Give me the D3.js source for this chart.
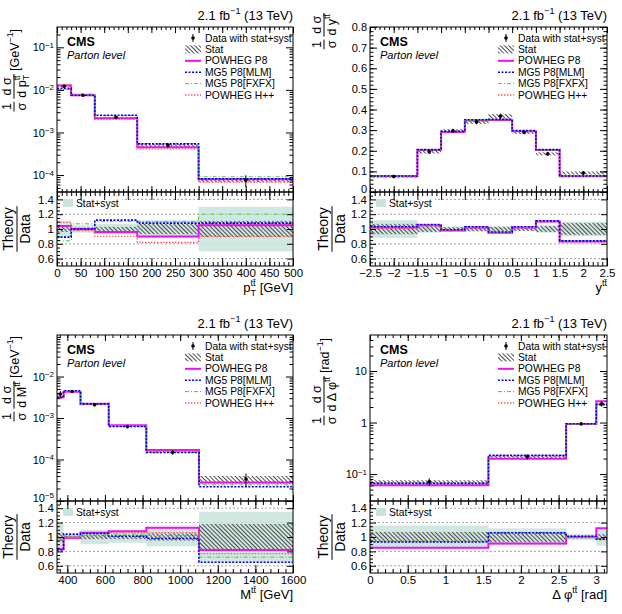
<!DOCTYPE html>
<html>
<head>
<meta charset="utf-8">
<script src="https://cdn.jsdelivr.net/npm/d3@7"></script>
<style>
  body { margin: 0; background: #fff; }
  svg { font-family: "Liberation Sans", Arial, Helvetica, sans-serif; }
  text { white-space: pre; }
</style>
</head>
<body>
<svg id="chart" width="622" height="614"></svg>
<script>
// ---- data ----
const modelNames = ["POWHEG P8", "MG5 P8[MLM]", "MG5 P8[FXFX]", "POWHEG H++"];

// pT(tt)
const ptEdges = [0, 30, 80, 170, 300, 500];
const ptData = [0.0122, 0.0075, 0.00226, 0.00050, 0.000076];
const ptStat = [0.04, 0.02, 0.03, 0.07, 0.11];
const ptTotal = [0.11, 0.05, 0.07, 0.12, 0.30];
const ptP8 = [1.04, 1.00, 0.96, 0.90, 1.05];
const ptMLM = [0.89, 1.00, 1.12, 1.08, 1.08];
const ptFXFX = [0.84, 1.07, 1.10, 1.10, 1.20];
const ptHpp = [1.09, 0.98, 0.90, 0.82, 0.90];

// y(tt)
const yEdges = [-2.5, -1.5, -1, -0.5, 0, 0.5, 1, 1.5, 2.5];
const yData = [0.075, 0.194, 0.297, 0.340, 0.367, 0.289, 0.185, 0.092];
const yStat = [0.07, 0.04, 0.025, 0.03, 0.03, 0.025, 0.04, 0.08];
const yTotal = [0.12, 0.05, 0.03, 0.035, 0.035, 0.03, 0.05, 0.10];
const yP8 = [1.02, 1.05, 0.98, 1.02, 0.95, 1.02, 1.10, 0.83];
const yMLM = [1.03, 1.06, 0.99, 1.03, 0.96, 1.03, 1.11, 0.84];
const yFXFX = [1.02, 1.05, 0.99, 1.02, 0.96, 1.02, 1.10, 0.84];
const yHpp = [1.01, 1.04, 0.98, 1.02, 0.95, 1.02, 1.10, 0.83];

// M(tt)
const mEdges = [345, 380, 470, 620, 820, 1100, 1600];
const mData = [0.0038, 0.00436, 0.00209, 0.00062, 0.00015, 0.000034];
const mStat = [0.06, 0.02, 0.03, 0.03, 0.05, 0.18];
const mTotal = [0.18, 0.04, 0.10, 0.08, 0.13, 0.35];
const mP8 = [0.83, 0.99, 1.06, 1.08, 1.13, 0.82];
const mMLM = [0.82, 1.04, 1.05, 1.01, 0.98, 0.65];
const mFXFX = [0.95, 1.00, 1.04, 1.04, 1.02, 0.72];
const mHpp = [0.97, 1.00, 1.02, 1.06, 1.06, 0.77];

// delta phi(tt)
const phiEdges = [0, 1.57, 2.6, 3.0, Math.PI];
const phiData = [0.071, 0.217, 0.94, 2.3];
const phiStat = [0.07, 0.07, 0.02, 0.04];
const phiTotal = [0.16, 0.12, 0.04, 0.12];
const phiP8 = [0.85, 0.91, 1.00, 1.12];
const phiMLM = [0.93, 1.06, 1.01, 0.97];
const phiFXFX = [0.94, 1.05, 0.99, 0.96];
const phiHpp = [0.94, 1.05, 1.00, 0.98];

const ratioTicks = [0.6, 0.8, 1, 1.2, 1.4];

// ---- styles ----
const modelStyle = [
  { color: "#ee11ee", width: 2, dash: null },
  { color: "#0000ee", width: 1.6, dash: "2,1.5" },
  { color: "#44cc44", width: 1, dash: "4,2,1,2" },
  { color: "#ff5c5c", width: 1.3, dash: "1.5,1.5" }
];
const drawOrder = [0, 3, 2, 1];
const bandColor = "#c9e3dd";

const svg = d3.select("#chart");
const defs = svg.append("defs");
defs.append("pattern")
  .attr("id", "hatch")
  .attr("patternUnits", "userSpaceOnUse")
  .attr("width", 3).attr("height", 3)
  .attr("patternTransform", "rotate(-45)")
  .append("line")
  .attr("x1", 0.5).attr("y1", 0).attr("x2", 0.5).attr("y2", 3)
  .attr("stroke", "#3a3a3a").attr("stroke-width", 0.9);

// rich text: segments {t, k: 'sup'|'sub', stack, i}
function rich(g, segs, x0, yb, fs) {
  let x = x0, lastX = x0;
  segs.forEach(s => {
    const small = s.k === "sup" || s.k === "sub";
    const size = small ? fs * 0.7 : fs;
    const dy = s.k === "sup" ? -fs * 0.45 : s.k === "sub" ? fs * 0.28 : 0;
    const px = s.stack ? lastX : x;
    const t = g.append("text").attr("x", px).attr("y", yb + dy)
      .attr("font-size", size).text(s.t);
    if (s.i) t.attr("font-style", "italic");
    const w = t.node().getComputedTextLength();
    if (s.stack) x = Math.max(x, px + w);
    else { lastX = px; x = px + w; }
  });
  return x - x0;
}

function vTitle(parts, fs, cx, anchorY, mode) {
  const g = svg.append("g");
  let pos = 0;
  parts.forEach(pt => {
    if (pt.num) {
      const gn = g.append("g"), gd = g.append("g");
      const wn = rich(gn, pt.num, 0, -fs * 0.28, fs);
      const wd = rich(gd, pt.den, 0, fs * 0.95, fs);
      const w = Math.max(wn, wd) + 2;
      gn.attr("transform", `translate(${pos + (w - wn) / 2},0)`);
      gd.attr("transform", `translate(${pos + (w - wd) / 2},0)`);
      g.append("line").attr("x1", pos).attr("x2", pos + w)
        .attr("y1", 0).attr("y2", 0).attr("stroke", "#000").attr("stroke-width", 1);
      pos += w + 3;
    } else {
      const gt = g.append("g").attr("transform", `translate(${pos},0)`);
      pos += rich(gt, pt.segs, 0, fs * 0.36, fs) + 3;
    }
  });
  const total = pos - 3;
  const base = mode === "end" ? anchorY + total : anchorY + total / 2;
  g.attr("transform", `translate(${cx},${base}) rotate(-90)`);
}

function hTitle(segs, fs, right, baseline) {
  const g = svg.append("g");
  const w = rich(g, segs, 0, 0, fs);
  g.attr("transform", `translate(${right - w},${baseline})`);
}

function logMinor(domain) {
  const out = [];
  const lo = Math.floor(Math.log10(domain[0])), hi = Math.ceil(Math.log10(domain[1]));
  for (let e = lo; e <= hi; e++) {
    for (let k = 2; k <= 9; k++) {
      const v = k * Math.pow(10, e);
      if (v > domain[0] && v < domain[1]) out.push(v);
    }
  }
  return out;
}

function supLabels(sel) {
  sel.selectAll(".tick text").each(function (d) {
    const t = d3.select(this);
    const e = Math.round(Math.log10(d));
    t.text(null);
    if (e === 0) t.text("1");
    else if (e === 1) t.text("10");
    else {
      t.text("10");
      t.append("tspan").attr("dy", "-0.45em").attr("font-size", "0.72em")
        .text((e < 0 ? "\u2212" : "") + Math.abs(e));
    }
  });
}

function cleanAxis(a, fs) {
  a.select(".domain").remove();
  a.attr("font-family", null).attr("font-size", fs || 11);
}

function panel(p) {
  const g = svg.append("g");
  const n = p.data.length;
  const x = d3.scaleLinear().domain(p.xDomain).range([p.left, p.right]);
  const y = (p.log ? d3.scaleLog() : d3.scaleLinear()).domain(p.yDomain).range([p.mid, p.top]);
  const r = d3.scaleLinear().domain([0.5, 1.5]).range([p.bottom, p.mid]);
  const bins = d3.range(n).map(i => ({
    x0: p.edges[i], x1: p.edges[i + 1], v: p.data[i], s: p.stat[i], t: p.total[i]
  }));
  const stepLine = (vals, sc) => d3.line().curve(d3.curveStepAfter)
    .x(d => x(d[0])).y(d => sc(d[1]))(p.edges.map((e, i) => [e, vals[Math.min(i, n - 1)]]));
  const styleLine = (path, k) => {
    const s = modelStyle[k];
    path.attr("fill", "none").attr("stroke", s.color).attr("stroke-width", s.width)
      .attr("stroke-dasharray", s.dash);
  };

  // ---------- upper pad ----------
  g.append("g").selectAll("rect").data(bins).join("rect")
    .attr("x", d => x(d.x0)).attr("width", d => x(d.x1) - x(d.x0))
    .attr("y", d => y(d.v * (1 + d.s)))
    .attr("height", d => y(d.v * (1 - d.s)) - y(d.v * (1 + d.s)))
    .attr("fill", "url(#hatch)");

  drawOrder.forEach(k => {
    const vals = p.models[k].map((rv, i) => rv * p.data[i]);
    styleLine(g.append("path").attr("d", stepLine(vals, y)), k);
  });

  const pts = g.append("g");
  pts.selectAll("line").data(bins).join("line")
    .attr("x1", d => x((d.x0 + d.x1) / 2)).attr("x2", d => x((d.x0 + d.x1) / 2))
    .attr("y1", d => y(d.v * (1 + d.t))).attr("y2", d => y(d.v * (1 - d.t)))
    .attr("stroke", "#000").attr("stroke-width", 1);
  pts.selectAll("circle").data(bins).join("circle")
    .attr("cx", d => x((d.x0 + d.x1) / 2)).attr("cy", d => y(d.v))
    .attr("r", 1.8).attr("fill", "#000");

  g.append("rect").attr("x", p.left).attr("y", p.top)
    .attr("width", p.right - p.left).attr("height", p.mid - p.top)
    .attr("fill", "none").attr("stroke", "#000").attr("stroke-width", 1);

  // upper axes (inward ticks)
  [[d3.axisBottom, p.mid], [d3.axisTop, p.top]].forEach(([fn, yy]) => {
    g.append("g").attr("transform", `translate(0,${yy})`)
      .call(fn(x).tickValues(p.xMajor).tickSize(-6).tickFormat(""))
      .call(a => cleanAxis(a));
    g.append("g").attr("transform", `translate(0,${yy})`)
      .call(fn(x).tickValues(p.xMinor).tickSize(-3).tickFormat(""))
      .call(a => cleanAxis(a));
  });
  const yMinor = p.log ? logMinor(p.yDomain) : p.yMinor;
  const left = g.append("g").attr("transform", `translate(${p.left},0)`)
    .call(d3.axisLeft(y).tickValues(p.yMajor).tickSize(-7).tickPadding(3)
      .tickFormat(p.log ? d => d : d3.format("~g")))
    .call(a => cleanAxis(a, 11));
  if (p.log) supLabels(left);
  // lift the label sitting on the pad boundary so it clears the ratio labels
  left.selectAll(".tick text").filter(d => Math.abs(y(d) - p.mid) < 1).attr("y", -3);
  g.append("g").attr("transform", `translate(${p.left},0)`)
    .call(d3.axisLeft(y).tickValues(yMinor).tickSize(-3.5).tickFormat(""))
    .call(a => cleanAxis(a));
  g.append("g").attr("transform", `translate(${p.right},0)`)
    .call(d3.axisRight(y).tickValues(p.yMajor).tickSize(-7).tickFormat(""))
    .call(a => cleanAxis(a));
  g.append("g").attr("transform", `translate(${p.right},0)`)
    .call(d3.axisRight(y).tickValues(yMinor).tickSize(-3.5).tickFormat(""))
    .call(a => cleanAxis(a));

  // labels in upper pad
  hTitle([{ t: "2.1 fb" }, { t: "\u22121", k: "sup" }, { t: " (13 TeV)" }], 13, p.right, p.top - 7);
  svg.append("text").attr("x", p.left + 10).attr("y", p.top + 19)
    .attr("font-size", 12.5).attr("font-weight", "bold").text("CMS");
  svg.append("text").attr("x", p.left + 10).attr("y", p.top + 32)
    .attr("font-size", 11).attr("font-style", "italic").text("Parton level");

  // legend
  const lx = p.left + 128, tx = p.left + 148, rowY = i => p.top + 11 + i * 11.4;
  const leg = g.append("g");
  leg.append("line").attr("x1", lx + 8).attr("x2", lx + 8)
    .attr("y1", rowY(0) - 4).attr("y2", rowY(0) + 4).attr("stroke", "#000");
  leg.append("circle").attr("cx", lx + 8).attr("cy", rowY(0)).attr("r", 1.8).attr("fill", "#000");
  leg.append("rect").attr("x", lx).attr("y", rowY(1) - 4).attr("width", 16).attr("height", 8)
    .attr("fill", "url(#hatch)");
  modelNames.forEach((name, k) => {
    styleLine(leg.append("path").attr("d", `M${lx},${rowY(k + 2)}H${lx + 16}`), k);
  });
  ["Data with stat+syst", "Stat"].concat(modelNames).forEach((t, i) => {
    leg.append("text").attr("x", tx).attr("y", rowY(i)).attr("dy", "0.35em")
      .attr("font-size", 10.3).text(t);
  });

  // ---------- ratio pad ----------
  g.append("g").selectAll("line").data(ratioTicks).join("line")
    .attr("x1", p.left).attr("x2", p.right)
    .attr("y1", d => r(d)).attr("y2", d => r(d))
    .attr("stroke", "#8a8a8a").attr("stroke-width", 0.8).attr("stroke-dasharray", "2,2");

  g.append("g").selectAll("rect").data(bins).join("rect")
    .attr("x", d => x(d.x0)).attr("width", d => x(d.x1) - x(d.x0))
    .attr("y", d => r(1 + d.t)).attr("height", d => r(1 - d.t) - r(1 + d.t))
    .attr("fill", bandColor).attr("fill-opacity", 0.85);
  g.append("g").selectAll("rect").data(bins).join("rect")
    .attr("x", d => x(d.x0)).attr("width", d => x(d.x1) - x(d.x0))
    .attr("y", d => r(1 + d.s)).attr("height", d => r(1 - d.s) - r(1 + d.s))
    .attr("fill", "url(#hatch)");

  drawOrder.forEach(k => {
    styleLine(g.append("path").attr("d", stepLine(p.models[k], r)), k);
  });

  // ratio legend
  g.append("rect").attr("x", p.left + 2).attr("y", p.mid + 4).attr("width", 63).attr("height", 14)
    .attr("fill", "#fff");
  g.append("rect").attr("x", p.left + 6).attr("y", p.mid + 7).attr("width", 10).attr("height", 8)
    .attr("fill", bandColor);
  g.append("text").attr("x", p.left + 19).attr("y", p.mid + 11).attr("dy", "0.35em")
    .attr("font-size", 10.3).text("Stat+syst");

  g.append("rect").attr("x", p.left).attr("y", p.mid)
    .attr("width", p.right - p.left).attr("height", p.bottom - p.mid)
    .attr("fill", "none").attr("stroke", "#000").attr("stroke-width", 1);

  g.append("g").attr("transform", `translate(0,${p.bottom})`)
    .call(d3.axisBottom(x).tickValues(p.xMajor).tickSize(-8).tickPadding(3).tickFormat(p.xFormat))
    .call(a => cleanAxis(a, 11.5));
  g.append("g").attr("transform", `translate(0,${p.bottom})`)
    .call(d3.axisBottom(x).tickValues(p.xMinor).tickSize(-4).tickFormat(""))
    .call(a => cleanAxis(a));
  g.append("g").attr("transform", `translate(0,${p.mid})`)
    .call(d3.axisTop(x).tickValues(p.xMajor).tickSize(-8).tickFormat(""))
    .call(a => cleanAxis(a));
  g.append("g").attr("transform", `translate(0,${p.mid})`)
    .call(d3.axisTop(x).tickValues(p.xMinor).tickSize(-4).tickFormat(""))
    .call(a => cleanAxis(a));
  const rMinor = d3.range(0.55, 1.5, 0.05).filter(v => !ratioTicks.some(t => Math.abs(t - v) < 1e-6));
  g.append("g").attr("transform", `translate(${p.left},0)`)
    .call(d3.axisLeft(r).tickValues(ratioTicks).tickSize(-6).tickPadding(3).tickFormat(d3.format("~g")))
    .call(a => cleanAxis(a, 11.5));
  g.append("g").attr("transform", `translate(${p.left},0)`)
    .call(d3.axisLeft(r).tickValues(rMinor).tickSize(-3).tickFormat(""))
    .call(a => cleanAxis(a));
  g.append("g").attr("transform", `translate(${p.right},0)`)
    .call(d3.axisRight(r).tickValues(ratioTicks).tickSize(-6).tickFormat(""))
    .call(a => cleanAxis(a));

  // axis titles
  vTitle(p.yTitle, 12.5, p.yTitleX, p.yTitleEnd, "end");
  vTitle([{ num: [{ t: "Theory" }], den: [{ t: "Data" }] }], 14, p.rTitleX, (p.mid + p.bottom) / 2, "mid");
  hTitle(p.xTitle, 13, p.right, p.bottom + 26);
}

const tt = "tt\u0304";
const oneOverSigma = { num: [{ t: "1" }], den: [{ t: "σ" }] };

panel({
  left: 57, right: 293, top: 27, mid: 192, bottom: 266,
  yTitleX: 14, yTitleEnd: 29, rTitleX: 17,
  edges: ptEdges, data: ptData, stat: ptStat, total: ptTotal,
  models: [ptP8, ptMLM, ptFXFX, ptHpp],
  xDomain: [0, 500], xMajor: d3.range(0, 501, 50), xMinor: d3.range(0, 501, 10),
  xFormat: d3.format("d"),
  log: true, yDomain: [4e-5, 0.3], yMajor: [1e-4, 1e-3, 1e-2, 1e-1],
  yTitle: [oneOverSigma,
    { num: [{ t: "d σ" }], den: [{ t: "d p" }, { t: "T", k: "sub" }, { t: tt, k: "sup", stack: true }] },
    { segs: [{ t: "[GeV" }, { t: "\u22121", k: "sup" }, { t: "]" }] }],
  xTitle: [{ t: "p" }, { t: "T", k: "sub" }, { t: tt, k: "sup", stack: true }, { t: " [GeV]" }]
});

panel({
  left: 370, right: 607, top: 27, mid: 192, bottom: 266,
  yTitleX: 324, yTitleEnd: 13, rTitleX: 332,
  edges: yEdges, data: yData, stat: yStat, total: yTotal,
  models: [yP8, yMLM, yFXFX, yHpp],
  xDomain: [-2.5, 2.5], xMajor: d3.range(-2.5, 2.51, 0.5), xMinor: d3.range(-2.5, 2.51, 0.1),
  xFormat: d3.format("~g"),
  log: false, yDomain: [0, 0.8], yMajor: d3.range(0, 0.81, 0.1), yMinor: d3.range(0, 0.81, 0.02),
  yTitle: [oneOverSigma, { num: [{ t: "d σ" }], den: [{ t: "d y" }, { t: tt, k: "sup" }] }],
  xTitle: [{ t: "y" }, { t: tt, k: "sup" }]
});

panel({
  left: 57, right: 293, top: 335, mid: 501, bottom: 573,
  yTitleX: 14, yTitleEnd: 336, rTitleX: 17,
  edges: mEdges, data: mData, stat: mStat, total: mTotal,
  models: [mP8, mMLM, mFXFX, mHpp],
  xDomain: [345, 1600], xMajor: d3.range(400, 1601, 200), xMinor: d3.range(360, 1601, 40),
  xFormat: d3.format("d"),
  log: true, yDomain: [1e-5, 0.1], yMajor: [1e-5, 1e-4, 1e-3, 1e-2],
  yTitle: [oneOverSigma,
    { num: [{ t: "d σ" }], den: [{ t: "d M" }, { t: tt, k: "sup" }] },
    { segs: [{ t: "[GeV" }, { t: "\u22121", k: "sup" }, { t: "]" }] }],
  xTitle: [{ t: "M" }, { t: tt, k: "sup" }, { t: " [GeV]" }]
});

panel({
  left: 370, right: 607, top: 335, mid: 501, bottom: 573,
  yTitleX: 324, yTitleEnd: 338, rTitleX: 332,
  edges: phiEdges, data: phiData, stat: phiStat, total: phiTotal,
  models: [phiP8, phiMLM, phiFXFX, phiHpp],
  xDomain: [0, Math.PI], xMajor: d3.range(0, 3.01, 0.5), xMinor: d3.range(0, 3.15, 0.1),
  xFormat: d3.format("~g"),
  log: true, yDomain: [0.03, 50], yMajor: [0.1, 1, 10],
  yTitle: [oneOverSigma,
    { num: [{ t: "d σ" }], den: [{ t: "d Δ φ" }, { t: tt, k: "sup" }] },
    { segs: [{ t: "[rad" }, { t: "\u22121", k: "sup" }, { t: "]" }] }],
  xTitle: [{ t: "Δ φ" }, { t: tt, k: "sup" }, { t: " [rad]" }]
});
</script>
</body>
</html>
